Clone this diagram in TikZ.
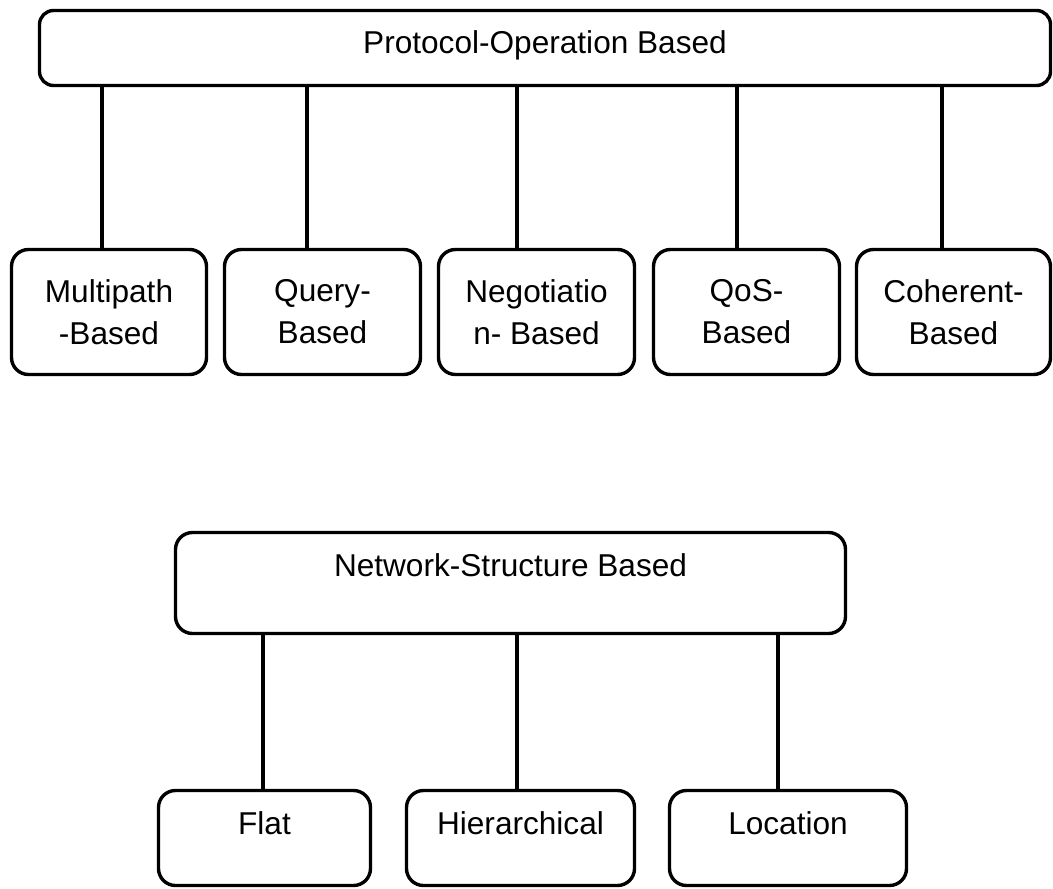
\documentclass[tikz,border=0pt]{standalone}
\usepackage{fontspec}
\setmainfont{Liberation Sans}

\tikzset{
  catbox/.style={draw, line width=1.7pt, rounded corners=8.5pt, inner sep=0pt,
    align=center, font=\fontsize{15.8pt}{21pt}\selectfont},
  onebox/.style={catbox, text height=21.75pt},
  link/.style={line width=1.7pt},
}

\begin{document}
\begin{tikzpicture}[x=0.5pt,y=-0.5pt]
\useasboundingbox (0,0) rectangle (1053,888);

% protocol-operation tree
\node[onebox, rounded corners=7pt, minimum width=505.5pt, text depth=15.75pt] (po) at (545,48) {Protocol-Operation Based};
\foreach \n/\x/\w/\t in {multi/109/97.5/{Multipath\\-Based},
    query/322.5/98/{Query-\\Based},
    nego/536.5/98/{Negotiatio\\n- Based},
    qos/746.5/93/{QoS-\\Based},
    coher/953.5/97/{Coherent-\\Based}}
  \node[catbox, minimum width=\w pt, minimum height=62.5pt] (\n) at (\x,312) {\t};
\foreach \n/\x in {multi/102, query/307, nego/517, qos/737, coher/942}
  \draw[link] (po.south -| \x,0) -- (\n.north -| \x,0);

% network-structure tree
\node[onebox, minimum width=335pt, text depth=28.75pt] (ns) at (510.5,583) {Network-Structure Based};
\foreach \n/\x/\w/\t in {flat/264.5/106/Flat, hier/520.5/114/Hierarchical, loc/788/118.5/Location}
  \node[onebox, minimum width=\w pt, text depth=25.75pt] (\n) at (\x,838) {\t};
\foreach \n/\x in {flat/263, hier/517, loc/778}
  \draw[link] (ns.south -| \x,0) -- (\n.north -| \x,0);

\end{tikzpicture}
\end{document}
